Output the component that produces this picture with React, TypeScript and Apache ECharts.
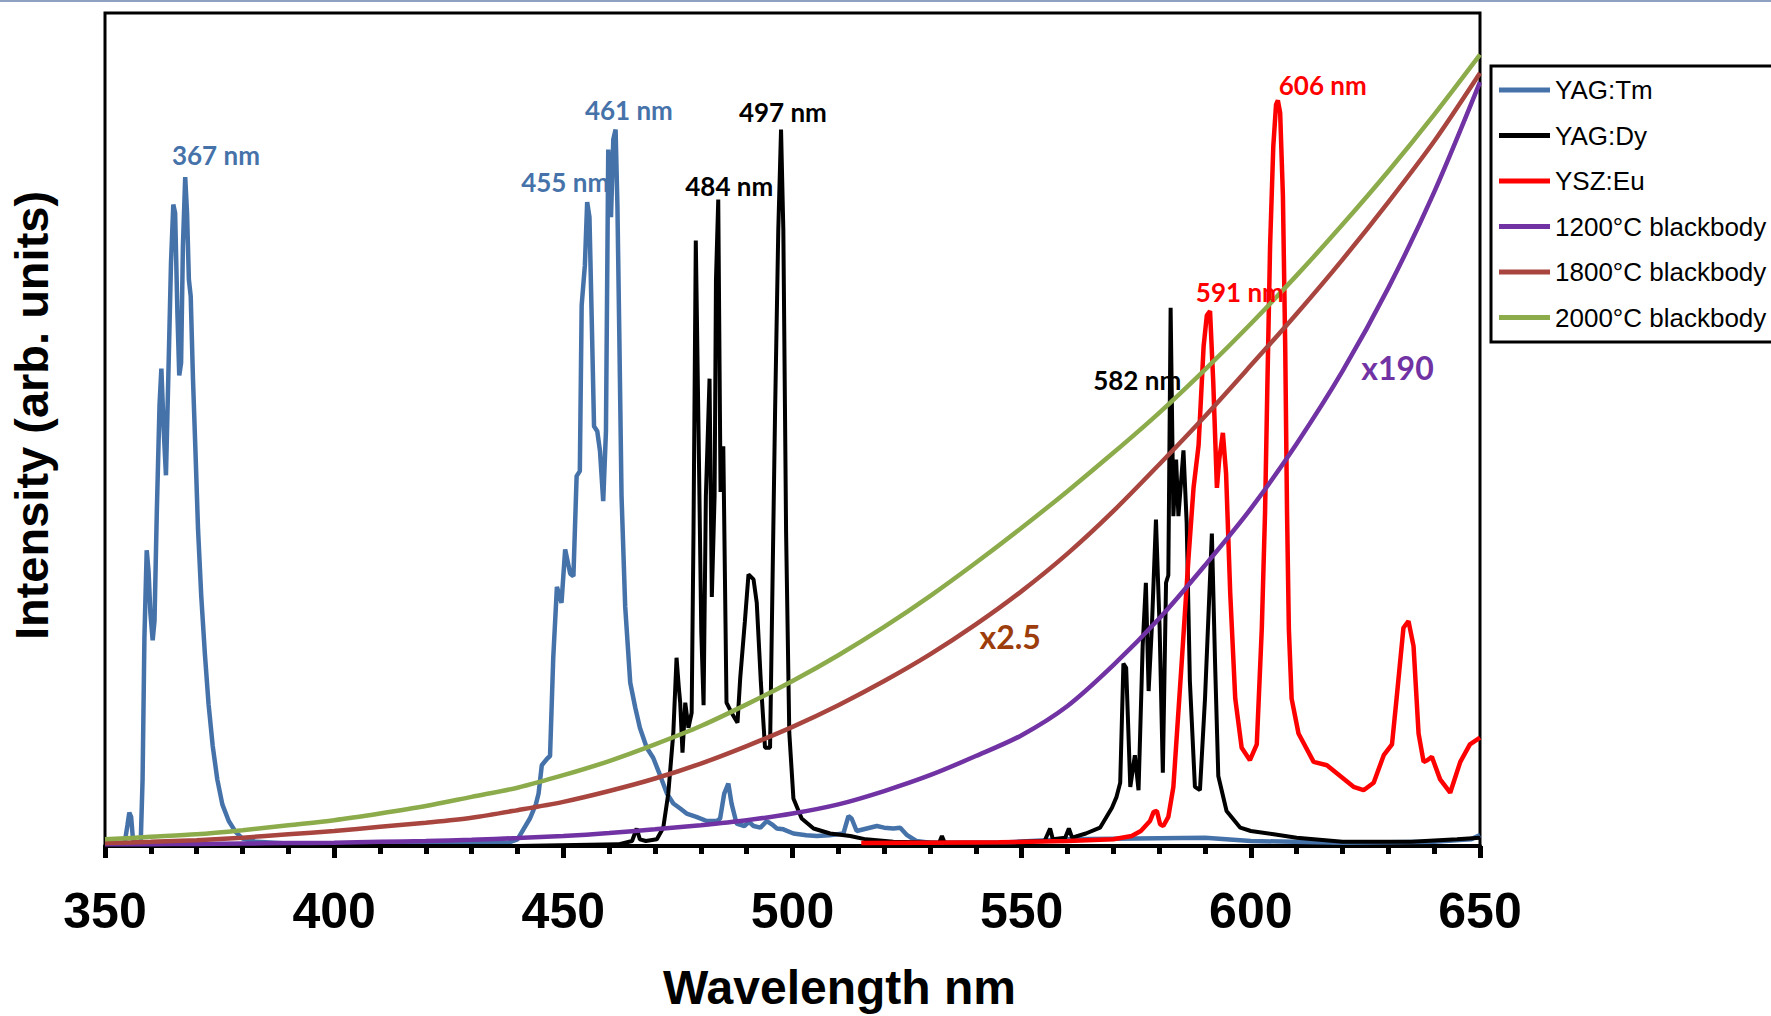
import React, { useEffect, useRef } from "react";
import * as echarts from "echarts";

// ---------- DATA ----------
const xMin = 350;
const xMax = 650;
const xStep = 50;

const seriesNames = [
  "YAG:Tm",
  "YAG:Dy",
  "YSZ:Eu",
  "1200°C blackbody",
  "1800°C blackbody",
  "2000°C blackbody",
];

// wavelength (nm), intensity (arb. units, 0..100)
const yagTm: number[][] = [
  [350, 0.3], [352, 0.3], [354.3, 0.4], [354.9, 2.5], [355.3, 4.0], [355.7, 3.5], [356.1, 0.8], [357, 0.3],
  [357.8, 0.5], [358.2, 8], [358.6, 25], [359.1, 35.5], [359.5, 33], [359.9, 28], [360.4, 24.7], [360.8, 27],
  [361.3, 40], [361.9, 53], [362.3, 57.3], [362.8, 50], [363.3, 44.5], [363.8, 56], [364.4, 70], [364.9, 77],
  [365.3, 76], [365.8, 64], [366.2, 56.5], [366.6, 58], [367.0, 72], [367.5, 80.3], [367.9, 76], [368.3, 68],
  [368.7, 66], [369.2, 56], [369.7, 48], [370.3, 38], [371, 30], [371.8, 23], [372.6, 17], [373.5, 12],
  [374.5, 8], [375.6, 5], [377, 3], [378.5, 1.7], [380, 0.9], [383, 0.5], [390, 0.3], [420, 0.3],
  [438, 0.4], [440, 0.8], [442.7, 3.3], [444, 5], [444.6, 6.3], [445.3, 9.7], [446.5, 10.5], [447.1, 10.8],
  [447.8, 22.6], [448.6, 31.1], [449.6, 29.2], [450.4, 35.6], [451.5, 32.7], [452.2, 32.4], [452.9, 44.4],
  [453.6, 45], [454, 64.9], [454.7, 69.7], [455.2, 77.3], [455.7, 75.5], [456.2, 63.1], [456.7, 50.4],
  [457.4, 49.8], [458, 47.4], [458.7, 41.4], [459.3, 49.8], [459.8, 83.6], [460.4, 75.5], [460.9, 84.8],
  [461.4, 86], [461.8, 76.9], [462.2, 61.9], [462.7, 42], [463.5, 28.7], [464.6, 19.6], [465.7, 16.6],
  [466.7, 14.2], [468.2, 11.8], [469.6, 10.6], [471.1, 8.5], [472.6, 6.3], [474, 5.1], [475.5, 4.5],
  [476.9, 3.9], [479, 3.5], [481.3, 3.0], [483.5, 3.0], [484.2, 3.3], [485.1, 6.3], [486, 7.5], [486.7, 5.1],
  [487.8, 2.7], [489.5, 2.4], [490.5, 2.9], [491.5, 2.4], [493, 2.2], [494.4, 3.0], [495.5, 2.6], [496.6, 2.1],
  [498, 2.0], [500.2, 1.5], [503, 1.3], [505.3, 1.2], [508, 1.3], [511.1, 1.5], [512.2, 3.6], [512.9, 3.3],
  [514, 1.8], [516.2, 2.1], [518.4, 2.4], [520, 2.2], [522, 2.1], [523.5, 2.2], [525, 1.3], [527, 0.6],
  [530, 0.4], [545, 0.4], [560, 0.8], [575, 0.9], [590, 1.0], [600, 0.6], [620, 0.4], [640, 0.5],
  [648, 0.8], [650, 1.3],
];

const yagDy: number[][] = [
  [350, 0], [440, 0], [462, 0.2], [465, 0.6], [466, 2.1], [466.7, 0.8], [468, 0.6], [470.4, 0.8],
  [471.8, 2.2], [472.9, 6.3], [474, 13.6], [474.7, 22.6], [475.2, 19], [475.5, 17.2], [476, 11.2],
  [476.6, 17.2], [477.3, 14.2], [478, 16.0], [478.4, 37.7], [478.9, 72.7], [479.5, 49.8], [480.1, 25.7],
  [480.6, 16.9], [481.1, 42], [481.9, 56.1], [482.4, 29.9], [483, 42], [483.3, 67.9], [483.8, 77.6],
  [484.3, 42.5], [484.9, 48], [485.6, 17.2], [486.7, 16], [488, 14.8], [488.6, 20.2], [489.6, 26.9],
  [490.4, 32.6], [491.5, 32], [492.2, 29.2], [493.1, 19.6], [494, 11.8], [495.1, 11.8], [496.2, 52.2],
  [496.9, 74], [497.5, 86], [498, 74], [498.6, 37.7], [499.3, 13.6], [500.2, 5.7], [502, 3.3],
  [504.6, 2.1], [508.2, 1.5], [512.6, 1.2], [516, 0.8], [522, 0.5], [532, 0.4], [532.6, 1.2], [533.2, 0.4],
  [545, 0.4], [555, 0.6], [556.2, 2.1], [556.8, 0.8], [559.5, 1], [560.3, 2.1], [561, 1], [564, 1.5],
  [567.1, 2.2], [569.7, 4.6], [570.7, 5.9], [571.5, 7.6], [572.2, 21.9], [572.8, 21.4], [573.7, 7.1],
  [574.7, 10.9], [575.5, 6.7], [576.4, 24], [577.1, 31.6], [577.7, 18.6], [578.4, 26.2], [579.3, 39.2],
  [580.1, 26.2], [580.8, 8.8], [581.5, 31.6], [582, 32.5], [582.5, 64.6], [583.1, 39.6], [583.7, 46.4],
  [584.2, 39.6], [585.3, 47.5], [586, 38.8], [586.7, 19.8], [587.8, 7.1], [588.9, 6.7], [590, 17.7],
  [591.5, 37.5], [592.2, 21.9], [592.9, 8.4], [594.7, 4.2], [597.7, 2.2], [600, 1.8], [605, 1.4],
  [610, 1.0], [620, 0.5], [635, 0.5], [645, 0.8], [650, 1.0],
];

const yszEu: number[][] = [
  [515, 0.35], [530, 0.4], [545, 0.45], [560, 0.6], [570, 0.8], [574, 1.2], [576, 1.8], [578, 3],
  [578.8, 4.1], [579.5, 4.2], [580.2, 2.6], [580.9, 2.4], [582, 3.5], [583.1, 7.1], [584.9, 21.9],
  [586.4, 34.6], [587.5, 43], [588.6, 48.1], [589.7, 60], [590.4, 63.7], [591.1, 64.2], [591.8, 55.7],
  [592.6, 43], [593.1, 46.4], [593.9, 49.6], [594.6, 44.7], [595.5, 30.4], [596.6, 17.7], [598, 11.8],
  [599.8, 10.3], [601.3, 12.2], [602.4, 26.2], [603.1, 40], [603.6, 55], [604.2, 72], [604.9, 84],
  [605.5, 89], [605.9, 89.5], [606.4, 88], [607, 78], [607.5, 60], [607.9, 40], [608.3, 26],
  [608.9, 17.7], [610.4, 13.5], [613.7, 10.1], [616.6, 9.7], [619.5, 8.4], [622.4, 7.1], [624.6, 6.7],
  [626.8, 7.6], [629, 10.9], [630.8, 12.2], [631.8, 17.7], [633.3, 26.2], [634.4, 27], [635.5, 24],
  [636.6, 13.5], [637.7, 10.1], [638.5, 10.3], [639.5, 10.7], [641.3, 8], [643.5, 6.4], [645.7, 10.1],
  [647.8, 12.2], [650, 13],
];

const bbWavelengths = [350, 360, 370, 380, 390, 400, 410, 420, 430, 440, 450, 460, 470, 480, 490, 500,
  510, 520, 530, 540, 550, 560, 570, 580, 590, 600, 610, 620, 630, 640, 650];
const bb1200x190 = [0.2, 0.22, 0.25, 0.3, 0.35, 0.4, 0.5, 0.6, 0.75, 0.95, 1.2, 1.55, 2.0, 2.5, 3.1, 3.9,
  5.0, 6.6, 8.5, 10.8, 13.3, 16.8, 21.7, 27.3, 33.7, 40.5, 48.3, 57.0, 67.0, 78.5, 91.7];
const bb1800x25 = [0.35, 0.5, 0.7, 1.0, 1.4, 1.8, 2.3, 2.8, 3.4, 4.3, 5.3, 6.6, 8.1, 9.9, 12.0, 14.3,
  16.9, 19.8, 23.0, 26.6, 30.6, 35.1, 40.2, 45.8, 51.6, 57.7, 63.9, 70.4, 77.3, 84.6, 92.8];
const bb2000 = [0.8, 1.1, 1.4, 1.9, 2.5, 3.1, 3.9, 4.8, 5.9, 7.0, 8.5, 10.2, 12.2, 14.4, 17.0, 19.8,
  22.9, 26.3, 30.0, 34.0, 38.2, 42.6, 47.2, 52.0, 57.2, 62.7, 68.5, 74.6, 81.0, 87.8, 95.0];

const annotationTexts = ["367 nm", "455 nm", "461 nm", "497 nm", "484 nm", "582 nm", "591 nm", "606 nm", "x190", "x2.5"];
const annotationWl = [374.2, 450.4, 464.3, 497.9, 486.2, 575.2, 597.6, 615.7, 632.0, 547.5];
const annotationIntensity = [83.0, 79.7, 88.4, 88.1, 79.2, 55.9, 66.5, 91.4, 57.4, 25.2];

// ---------- STYLES ----------
const lineColors = ["#4672AA", "#000000", "#FF0000", "#7133A3", "#A9453F", "#8CAB4B"];
const lineWidths = [4.5, 4, 4.5, 4.5, 4.5, 4.5];
const annotationColors = ["#4672AA", "#4672AA", "#4672AA", "#000000", "#000000", "#000000", "#FF0000", "#FF0000", "#7133A3", "#9C3D0B"];
const annotationSizes = [26, 26, 26, 26, 26, 26, 26, 26, 32, 32];

const pair = (xs: number[], ys: number[]) => xs.map((x, i) => [x, ys[i]]);

export default function App() {
  const ref = useRef<HTMLDivElement>(null);
  useEffect(() => {
    if (!ref.current) return;
    const chart = echarts.init(ref.current, null, { renderer: "svg" });
    const datasets = [
      yagTm,
      yagDy,
      yszEu,
      pair(bbWavelengths, bb1200x190),
      pair(bbWavelengths, bb1800x25),
      pair(bbWavelengths, bb2000),
    ];
    const option: any = {
      animation: false,
      backgroundColor: "#ffffff",
      grid: {
        left: 105,
        right: 291,
        top: 13,
        bottom: 158,
        show: true,
        borderColor: "#000",
        borderWidth: 3,
        backgroundColor: "transparent",
      },
      xAxis: {
        type: "value",
        min: xMin,
        max: xMax,
        interval: xStep,
        name: "Wavelength nm",
        nameLocation: "middle",
        nameGap: 117,
        nameTextStyle: {
          fontSize: 48,
          fontWeight: "bold",
          color: "#000",
          fontFamily: "Liberation Sans, Arial",
          padding: [0, 0, 0, 94],
        },
        axisLine: { show: true, lineStyle: { color: "#000", width: 4 } },
        axisTick: { show: true, length: 12, lineStyle: { color: "#000", width: 5 } },
        minorTick: { show: true, splitNumber: 5, length: 8, lineStyle: { color: "#000", width: 5 } },
        axisLabel: { fontSize: 50, fontWeight: "bold", color: "#000", margin: 40, fontFamily: "Liberation Sans, Arial" },
        splitLine: { show: false },
      },
      yAxis: {
        type: "value",
        min: 0,
        max: 100,
        name: "Intensity (arb. units)",
        nameLocation: "middle",
        nameRotate: 90,
        nameGap: 50,
        nameTextStyle: {
          fontSize: 47,
          fontWeight: "bold",
          color: "#000",
          fontFamily: "Liberation Sans, Arial",
          padding: [0, 0, 0, 28],
        },
        axisLine: { show: false },
        axisTick: { show: false },
        axisLabel: { show: false },
        splitLine: { show: false },
      },
      legend: {
        orient: "vertical",
        left: 1499,
        top: 75,
        padding: 0,
        itemWidth: 51,
        itemHeight: 5,
        itemGap: 15.5,
        icon: "rect",
        data: seriesNames,
        textStyle: { fontSize: 26, color: "#000", fontFamily: "Liberation Sans, Arial", lineHeight: 30 },
      },
      series: seriesNames.map((name, i) => ({
        name,
        type: "line",
        data: datasets[i],
        showSymbol: false,
        symbol: "none",
        smooth: i >= 3 ? 0.3 : false,
        lineStyle: { color: lineColors[i], width: lineWidths[i] },
        itemStyle: { color: lineColors[i] },
        z: 2,
      })),
    };
    chart.setOption(option);

    const labelGraphics = annotationTexts.map((t, i) => {
      const p = chart.convertToPixel({ gridIndex: 0 }, [annotationWl[i], annotationIntensity[i]]) as number[];
      return {
        type: "text",
        x: p[0],
        y: p[1],
        z: 10,
        style: {
          text: t,
          fill: annotationColors[i],
          fontSize: annotationSizes[i],
          fontWeight: "bold",
          fontFamily: "Lato, Open Sans, sans-serif",
          align: "center",
          verticalAlign: "middle",
        },
      };
    });

    chart.setOption({
      graphic: [
        {
          type: "line",
          shape: { x1: 0, y1: 1, x2: 1771, y2: 1 },
          style: { stroke: "#8EA1C3", lineWidth: 2 },
        },
        {
          type: "rect",
          shape: { x: 1491, y: 66, width: 330, height: 276 },
          style: { fill: "none", stroke: "#000", lineWidth: 3 },
        },
        ...labelGraphics,
      ],
    });

    return () => chart.dispose();
  }, []);

  return (
    <div
      ref={ref}
      style={{ position: "absolute", left: 0, top: 0, width: 1771, height: 1016, background: "#fff" }}
    />
  );
}
